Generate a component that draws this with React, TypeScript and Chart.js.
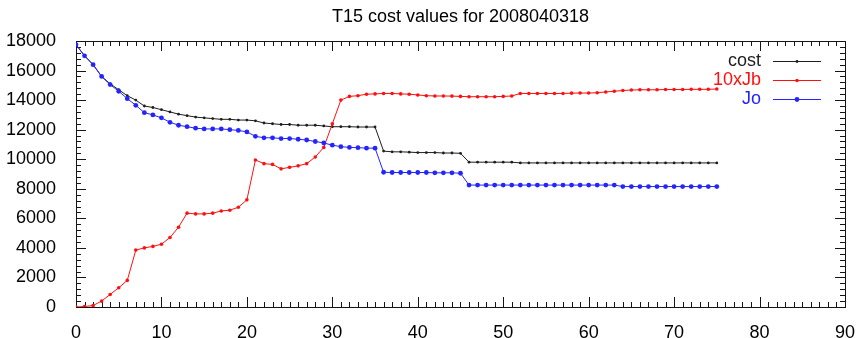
import { useEffect, useRef } from 'react';
import { Chart, registerables } from 'chart.js';

Chart.register(...registerables);

const FONT = '"Liberation Sans", Arial, Helvetica, sans-serif';
const FONT_SIZE = 18;

const titleText = 'T15 cost values for 2008040318';

// Axis ranges and tick spacing
const xRange = [0, 90];
const yRange = [0, 18000];
const xMajorStep = 10;
const xMinorStep = 1;
const yMajorStep = 2000;
const yMinorStep = 400;

const frameColor = '#141414';

const seriesLabels = ['cost', '10xJb', 'Jo'];
const seriesColors = ['#1e1e1e', '#ff1010', '#2424ff'];

// Cost function values per iteration (iteration = array index)
const cost = [
  17750, 17000, 16400, 15600, 15100, 14700, 14300, 14000, 13600, 13500,
  13350, 13200, 13050, 12950, 12850, 12800, 12750, 12700, 12700, 12650,
  12650, 12600, 12450, 12400, 12350, 12350, 12300, 12300, 12300, 12250,
  12200, 12200, 12200, 12180, 12180, 12180, 10550, 10500, 10500, 10480,
  10450, 10450, 10450, 10420, 10420, 10400, 9800, 9800, 9800, 9800,
  9800, 9800, 9750, 9750, 9750, 9750, 9750, 9750, 9750, 9750,
  9750, 9750, 9750, 9750, 9750, 9750, 9750, 9750, 9750, 9750,
  9750, 9750, 9750, 9750, 9750, 9750,
];

const tenJb = [
  0, 30, 100, 400, 850, 1300, 1800, 3850, 4000, 4100,
  4250, 4700, 5400, 6350, 6300, 6300, 6350, 6500, 6550, 6750,
  7250, 9950, 9700, 9650, 9350, 9450, 9550, 9700, 10150, 10800,
  12400, 14000, 14250, 14300, 14400, 14420, 14450, 14450, 14420, 14400,
  14350, 14300, 14280, 14280, 14270, 14250, 14230, 14230, 14230, 14230,
  14250, 14280, 14450, 14450, 14450, 14450, 14450, 14450, 14470, 14480,
  14480, 14500, 14550, 14600, 14650, 14680, 14700, 14700, 14700, 14720,
  14720, 14720, 14730, 14730, 14730, 14750,
];

const jo = [
  17750, 17000, 16400, 15600, 15050, 14600, 14100, 13650, 13150, 13000,
  12800, 12500, 12300, 12200, 12100, 12050, 12050, 12050, 12000, 11950,
  11850, 11550, 11450, 11450, 11400, 11400, 11350, 11300, 11200, 11100,
  10950, 10850, 10800, 10780, 10750, 10750, 9120, 9100, 9100, 9100,
  9100, 9100, 9080, 9080, 9080, 9050, 8250, 8250, 8250, 8250,
  8250, 8250, 8250, 8250, 8250, 8250, 8250, 8250, 8250, 8250,
  8250, 8250, 8250, 8250, 8150, 8150, 8150, 8150, 8150, 8150,
  8150, 8150, 8150, 8150, 8150, 8150,
];

const seriesValues = [cost, tenJb, jo];
const pointSizes = [1.4, 1.8, 2.4];

const toPoints = (values: number[]) => values.map((y, i) => ({ x: i, y }));

// Plot box with inward major/minor ticks mirrored on all four sides
function drawFrame(chart: any) {
  const ctx: CanvasRenderingContext2D = chart.ctx;
  const area = chart.chartArea;
  const xs = chart.scales.x;
  const ys = chart.scales.y;
  const t = Math.round(area.top);
  const b = Math.round(area.bottom);
  const l = Math.round(area.left);
  const r = Math.round(area.right);
  ctx.save();
  ctx.fillStyle = frameColor;
  for (let v = xRange[0]; v <= xRange[1]; v += xMinorStep) {
    const px = Math.round(xs.getPixelForValue(v));
    const len = v % xMajorStep === 0 ? 10 : 5;
    ctx.fillRect(px, b - len, 1, len);
    ctx.fillRect(px, t, 1, len);
  }
  for (let v = yRange[0]; v <= yRange[1]; v += yMinorStep) {
    const py = Math.round(ys.getPixelForValue(v));
    const len = v % yMajorStep === 0 ? 10 : 5;
    ctx.fillRect(l, py, len, 1);
    ctx.fillRect(r - len, py, len, 1);
  }
  ctx.fillRect(l, t, r - l + 1, 1);
  ctx.fillRect(l, b, r - l + 1, 1);
  ctx.fillRect(l, t, 1, b - t + 1);
  ctx.fillRect(r, t, 1, b - t + 1);
  ctx.restore();
}

function drawTitleAndKey(chart: any) {
  const { ctx, chartArea: a } = chart;
  ctx.save();
  ctx.font = `${FONT_SIZE}px ${FONT}`;
  ctx.fillStyle = '#000';
  ctx.textAlign = 'center';
  ctx.textBaseline = 'middle';
  ctx.fillText(titleText, (a.left + a.right) / 2, 17);

  // Key in the upper right corner
  const textRight = a.right - 84;
  const lineStart = a.right - 72;
  const lineEnd = a.right - 24;
  chart.data.datasets.forEach((ds: any, i: number) => {
    const y = a.top + 20 + i * 19;
    ctx.fillStyle = ds.borderColor;
    ctx.textAlign = 'right';
    ctx.fillText(ds.label, textRight, y);
    ctx.fillRect(lineStart, Math.round(y), lineEnd - lineStart, 1);
    ctx.beginPath();
    ctx.arc((lineStart + lineEnd) / 2, Math.round(y) + 0.5, ds.pointRadius, 0, Math.PI * 2);
    ctx.fill();
  });
  ctx.restore();
}

const decorPlugin = {
  id: 'plotDecor',
  beforeDatasetsDraw(chart: any) {
    drawFrame(chart);
  },
  afterDraw(chart: any) {
    drawTitleAndKey(chart);
  },
};

export default function App() {
  const canvasRef = useRef<HTMLCanvasElement | null>(null);

  useEffect(() => {
    const canvas = canvasRef.current;
    if (!canvas) return;
    const tickFont = { family: FONT, size: FONT_SIZE };
    const chart = new Chart(canvas, {
      type: 'line',
      data: {
        datasets: seriesLabels.map((label, i) => ({
          label,
          data: toPoints(seriesValues[i]),
          borderColor: seriesColors[i],
          backgroundColor: seriesColors[i],
          pointBackgroundColor: seriesColors[i],
          pointBorderColor: seriesColors[i],
          borderWidth: 1,
          pointRadius: pointSizes[i],
          pointBorderWidth: 0,
          pointStyle: 'circle',
          tension: 0,
          fill: false,
          order: seriesLabels.length - 1 - i,
        })),
      },
      options: {
        responsive: false,
        animation: false,
        devicePixelRatio: 1,
        layout: { padding: { left: 0, right: 14, top: 41, bottom: 0 } },
        plugins: {
          legend: { display: false },
          title: { display: false },
          tooltip: { enabled: false },
        },
        scales: {
          x: {
            type: 'linear',
            position: 'bottom',
            min: xRange[0],
            max: xRange[1],
            grid: { display: false },
            border: { display: false },
            ticks: {
              stepSize: xMajorStep,
              font: tickFont,
              color: '#000',
              padding: 7,
              maxRotation: 0,
              autoSkip: false,
            },
            afterFit: (s: any) => {
              s.height = 31;
            },
          },
          y: {
            type: 'linear',
            position: 'left',
            min: yRange[0],
            max: yRange[1],
            grid: { display: false },
            border: { display: false },
            ticks: {
              stepSize: yMajorStep,
              font: tickFont,
              color: '#000',
              padding: 12,
              autoSkip: false,
              callback: (v: any) => String(v),
            },
            afterFit: (s: any) => {
              s.width = 76;
            },
          },
        },
      },
      plugins: [decorPlugin],
    } as any);
    return () => chart.destroy();
  }, []);

  return (
    <div style={{ position: 'fixed', left: 0, top: 0, width: 862, height: 338, background: '#fff' }}>
      <canvas ref={canvasRef} width={862} height={338} style={{ display: 'block' }} />
    </div>
  );
}
